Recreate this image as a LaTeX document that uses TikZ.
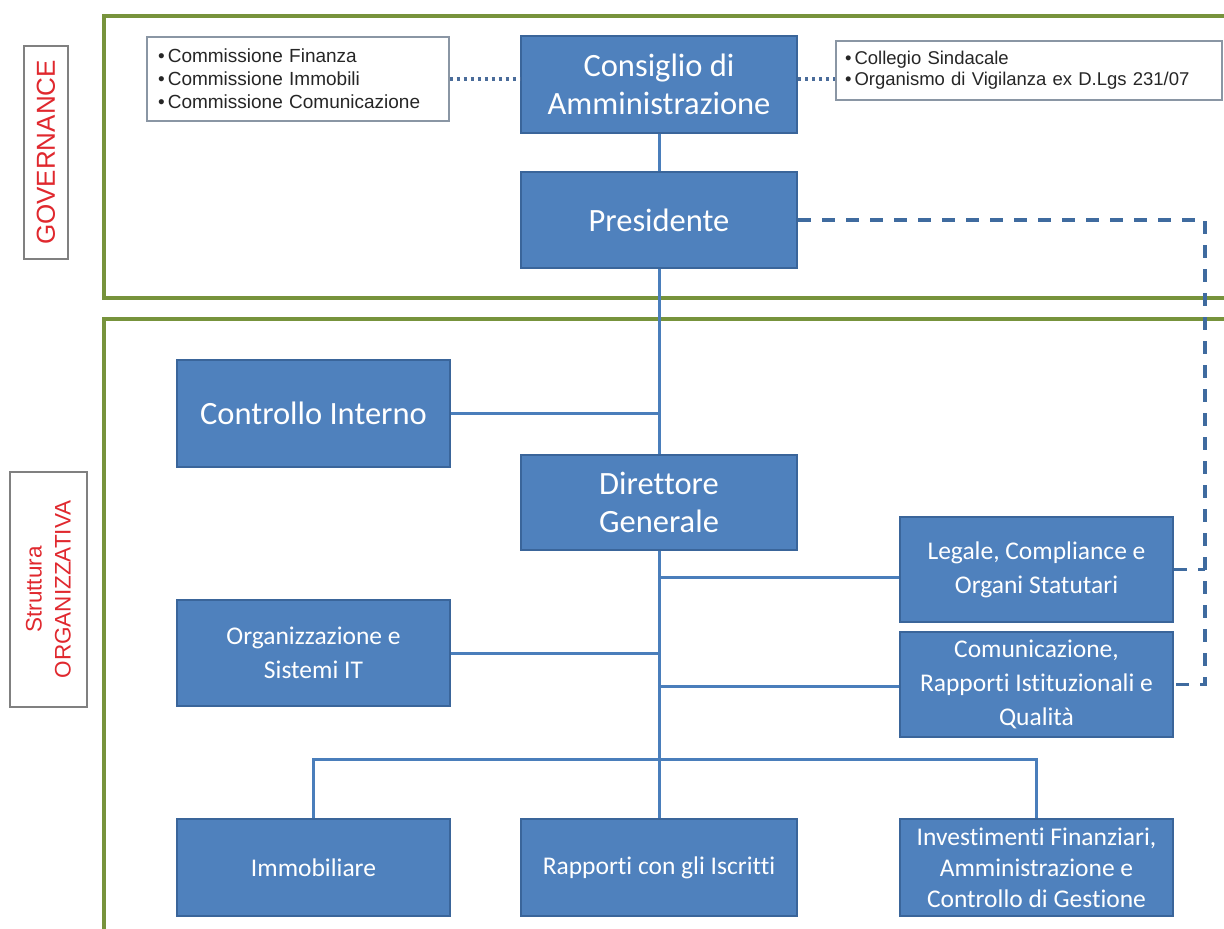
\documentclass[tikz,border=0pt]{standalone}
\usepackage{fontspec}
\setmainfont{Carlito}[Ligatures=NoCommon]
\newfontfamily\arialf{Liberation Sans}
\definecolor{boxblue}{HTML}{4F81BD}
\definecolor{boxline}{HTML}{3A659A}
\definecolor{conn}{HTML}{4A7EBB}
\definecolor{frameg}{HTML}{77933C}
\definecolor{labred}{HTML}{E0282E}
\definecolor{greyb}{HTML}{8A96A4}
\definecolor{dotc}{HTML}{4A6C9A}
\begin{document}
\begin{tikzpicture}[x=1pt,y=-1pt,
  bx/.style={draw=boxline, line width=2pt, fill=boxblue, text=white, align=center, inner sep=0pt},
  big/.style={bx, font=\fontsize{32.5}{38}\selectfont},
  med/.style={bx, font=\fontsize{25.5}{34}\selectfont},
  low/.style={bx, font=\fontsize{25.5}{31}\selectfont},
  wide/.style={minimum width=276pt},
  narrow/.style={minimum width=273pt},
  conline/.style={draw=conn, line width=3pt},
  dotline/.style={draw=dotc, line width=3.2pt, dash pattern=on 3pt off 4pt},
  dashline/.style={draw=conn!85!black, line width=3.2pt, dash pattern=on 13pt off 11pt},
  frame/.style={draw=frameg, line width=3.8pt},
  infobox/.style={draw=greyb, line width=1.2pt, fill=white, align=left, inner sep=0pt, text=black!85},
  labbox/.style={draw=gray, line width=1.2pt, fill=white, align=center, inner sep=0pt, text=labred, rotate=90}
]
\useasboundingbox (0,0) rectangle (1224,929);
\begin{scope}
\clip (0,0) rectangle (1224,929);
% frames
\draw[frame] (104,16) rectangle (1260,298);
\draw[frame] (104,319) rectangle (1260,960);

% side labels
\node[labbox, minimum width=213pt, minimum height=44pt, font=\arialf\fontsize{26}{28}\selectfont] (gov) at (46,152.5) {GOVERNANCE};
\node[labbox, minimum width=235pt, minimum height=77pt, font=\arialf\fontsize{22.5}{29}\selectfont] (str) at (48.5,589.5) {Struttura\\ORGANIZZATIVA};

% info boxes
\node[infobox, minimum width=302pt, minimum height=84pt, text width=280pt, font=\arialf\fontsize{19}{23}\selectfont] (comm) at (298,79)
  {\textbullet\,Commissione Finanza\\\textbullet\,Commissione Immobili\\\textbullet\,Commissione Comunicazione};
\node[infobox, minimum width=386pt, minimum height=59pt, text width=368pt, font=\arialf\fontsize{18.5}{21}\selectfont] (coll) at (1029,70.5)
  {\textbullet\,Collegio Sindacale\\\textbullet\,Organismo di Vigilanza ex D.Lgs 231/07};

% governance boxes
\node[big, wide, minimum height=97pt] (cda) at (659,84.5) {Consiglio di\\Amministrazione};
\node[big, wide, minimum height=96pt] (pres) at (659,220) {Presidente};

% organisation boxes
\node[big, narrow, minimum height=107pt] (ci) at (313.5,413.5) {Controllo Interno};
\node[big, wide, minimum height=95pt] (dg) at (659,502.5) {Direttore\\Generale};
\node[med, narrow, minimum height=105pt] (leg) at (1036.5,569.5) {Legale, Compliance e\\Organi Statutari};
\node[med, narrow, minimum height=106pt] (org) at (313.5,653) {Organizzazione e\\Sistemi IT};
\node[med, narrow, minimum height=105pt] (com) at (1036.5,684.5) {Comunicazione,\\Rapporti Istituzionali e\\Qualità};
\node[low, narrow, minimum height=97pt] (imm) at (313.5,867.5) {Immobiliare};
\node[low, wide, minimum height=97pt] (rap) at (659,867.5) {Rapporti con gli Iscritti};
\node[low, narrow, minimum height=97pt] (inv) at (1036.5,867.5) {Investimenti Finanziari,\\Amministrazione e\\Controllo di Gestione};

% junction coordinates
\coordinate (jleg) at (659,577);
\coordinate (jcom) at (659,686);
\coordinate (bus) at (659,759);
\coordinate (dv) at (1205,220);

% connectors
\draw[conline] (cda) -- (pres);
\draw[conline] (pres) -- (dg);
\draw[conline] (dg) -- (rap);
\draw[conline] (ci.east) -- (ci.east -| dg.north);
\draw[conline] (org.east) -- (org.east -| dg.south);
\draw[conline] (jleg) -- (jleg -| leg.west);
\draw[conline] (jcom) -- (jcom -| com.west);
\draw[conline] (imm.north) |- (bus) -| (inv.north);

% dotted links
\draw[dotline] (comm.east) -- (comm.east -| cda.west);
\draw[dotline] (cda.east |- comm.east) -- (coll.west |- comm.east);

% dashed links
\draw[dashline] (pres.east) -- (dv) -- (dv |- com.east) -- (com.east);
\draw[dashline] (leg.east) -- (leg.east -| dv);
\end{scope}
\end{tikzpicture}
\end{document}
